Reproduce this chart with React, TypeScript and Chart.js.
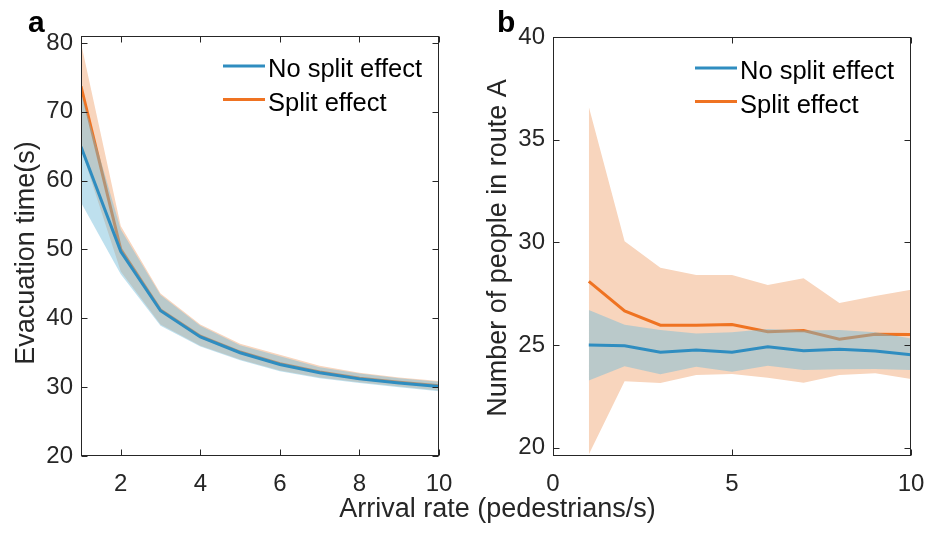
import React, { useEffect, useRef } from 'react';
import { Chart, registerables } from 'chart.js';

Chart.register(...registerables);

// ---------- data ----------
const arrivalRates = [1, 2, 3, 4, 5, 6, 7, 8, 9, 10];

// panel a: evacuation time (s)
const evacNoSplit = [64.9, 49.7, 41.1, 37.3, 35.0, 33.3, 32.1, 31.2, 30.6, 30.1];
const evacNoSplitUpper = [72.8, 52.9, 43.4, 38.9, 36.1, 34.5, 32.9, 32.0, 31.3, 30.8];
const evacNoSplitLower = [56.8, 46.4, 38.9, 35.9, 33.9, 32.3, 31.3, 30.6, 30.0, 29.4];
const evacSplit = [73.7, 50.0, 41.2, 37.4, 35.1, 33.4, 32.2, 31.3, 30.7, 30.2];
const evacSplitUpper = [80.0, 53.4, 43.6, 39.1, 36.3, 34.7, 33.1, 32.1, 31.4, 30.9];
const evacSplitLower = [64.6, 46.8, 39.1, 36.0, 34.0, 32.4, 31.4, 30.7, 30.1, 29.5];

// panel b: number of people in route A
const routeNoSplit = [25.0, 24.97, 24.65, 24.76, 24.65, 24.92, 24.72, 24.8, 24.71, 24.53];
const routeNoSplitUpper = [26.71, 25.99, 25.74, 25.57, 25.62, 25.78, 25.71, 25.74, 25.62, 25.32];
const routeNoSplitLower = [23.27, 23.97, 23.58, 23.95, 23.7, 24.0, 23.79, 23.82, 23.84, 23.79];
const routeSplit = [28.1, 26.66, 25.97, 25.97, 26.0, 25.65, 25.71, 25.29, 25.53, 25.52];
const routeSplitUpper = [36.6, 30.06, 28.77, 28.41, 28.41, 27.93, 28.25, 27.05, 27.39, 27.69];
const routeSplitLower = [19.67, 23.24, 23.16, 23.54, 23.59, 23.41, 23.17, 23.54, 23.63, 23.35];

const xTicksA = [2, 4, 6, 8, 10];
const yTicksA = [20, 30, 40, 50, 60, 70, 80];
const xTicksB = [0, 5, 10];
const yTicksB = [20, 25, 30, 35, 40];

const legendLabels = ['No split effect', 'Split effect'];
const titleA = 'Evacuation time(s)';
const titleB = 'Number of people in route A';
const xTitle = 'Arrival rate (pedestrians/s)';

// ---------- style ----------
const BLUE = '#2F8DC0';
const ORANGE = '#EF7322';
const BLUE_FILL = 'rgba(111,187,218,0.45)';
const ORANGE_FILL = '#F8D5BD';
const AXIS = '#262626';
const FONT = "'Liberation Sans', Arial, Helvetica, sans-serif";
const W = 928;
const H = 537;

function pts(xs: number[], ys: number[]) {
  return xs.map((x, i) => ({ x, y: ys[i] }));
}

type PanelCfg = {
  mean1: number[]; up1: number[]; lo1: number[];
  mean2: number[]; up2: number[]; lo2: number[];
  xMin: number; xMax: number; yMin: number; yMax: number;
  xTicks: number[]; yTicks: number[];
  left: number; right: number; top: number; bottom: number;
  yTitle: string; yTitleX: number; yTitleY: number;
  label: string; labelX: number;
  legendX: number; legendDy: number;
  drawXTitle: boolean;
};

function makePlugin(p: PanelCfg) {
  return {
    id: 'frame_' + p.label,
    afterDatasetsDraw(chart: any) {
      const { ctx, chartArea: a, scales } = chart;
      ctx.save();
      ctx.strokeStyle = AXIS;
      ctx.lineWidth = 1;
      const L = Math.round(a.left) + 0.5;
      const R = Math.round(a.right) - 0.5;
      const T = Math.round(a.top) + 0.5;
      const B = Math.round(a.bottom) - 0.5;
      ctx.strokeRect(L, T, R - L, B - T);
      const tl = 6;
      ctx.beginPath();
      for (const t of scales.x.ticks) {
        const px = Math.round(scales.x.getPixelForValue(t.value)) + 0.5;
        ctx.moveTo(px, B); ctx.lineTo(px, B - tl);
        ctx.moveTo(px, T); ctx.lineTo(px, T + tl);
      }
      for (const t of scales.y.ticks) {
        const py = Math.round(scales.y.getPixelForValue(t.value)) + 0.5;
        ctx.moveTo(L, py); ctx.lineTo(L + tl, py);
        ctx.moveTo(R, py); ctx.lineTo(R - tl, py);
      }
      ctx.stroke();

      // legend
      const lx = p.legendX;
      const ys = [66 + p.legendDy, 99.5 + p.legendDy];
      const cols = [BLUE, ORANGE];
      ctx.font = `25.5px ${FONT}`;
      ctx.textBaseline = 'alphabetic';
      ctx.textAlign = 'left';
      for (let i = 0; i < 2; i++) {
        ctx.strokeStyle = cols[i];
        ctx.lineWidth = 3;
        ctx.beginPath();
        ctx.moveTo(lx, ys[i]);
        ctx.lineTo(lx + 42, ys[i]);
        ctx.stroke();
        ctx.fillStyle = '#000';
        ctx.fillText(legendLabels[i], lx + 45, ys[i] + 11);
      }

      // y title
      ctx.fillStyle = AXIS;
      ctx.font = `27px ${FONT}`;
      ctx.save();
      ctx.translate(p.yTitleX, p.yTitleY);
      ctx.rotate(-Math.PI / 2);
      ctx.textAlign = 'center';
      ctx.fillText(p.yTitle, 0, 0);
      ctx.restore();

      if (p.drawXTitle) {
        ctx.textAlign = 'center';
        ctx.fillText(xTitle, 497.5, 517);
      }

      // panel label
      ctx.fillStyle = '#000';
      ctx.font = `bold 30px ${FONT}`;
      ctx.textAlign = 'left';
      ctx.fillText(p.label, p.labelX, 32);
      ctx.restore();
    },
  };
}

function makeConfig(p: PanelCfg): any {
  const band = (data: number[], color: string, fill: any) => ({
    data: pts(arrivalRates, data),
    borderWidth: 0,
    borderColor: 'transparent',
    backgroundColor: color,
    pointRadius: 0,
    fill,
    tension: 0,
  });
  const line = (data: number[], color: string) => ({
    data: pts(arrivalRates, data),
    borderWidth: 3,
    borderColor: color,
    pointRadius: 0,
    fill: false,
    tension: 0,
  });
  const tickFont = { family: FONT, size: 24 };
  return {
    type: 'line',
    data: {
      datasets: [
        line(p.mean1, BLUE),
        band(p.up1, BLUE_FILL, '+1'),
        band(p.lo1, 'transparent', false),
        line(p.mean2, ORANGE),
        band(p.up2, ORANGE_FILL, '+1'),
        band(p.lo2, 'transparent', false),
      ],
    },
    options: {
      animation: false,
      responsive: false,
      events: [],
      layout: { padding: { left: 0, right: W - p.right, top: p.top, bottom: 0 } },
      plugins: {
        legend: { display: false },
        tooltip: { enabled: false },
        filler: { drawTime: 'beforeDatasetDraw' },
      },
      scales: {
        x: {
          type: 'linear',
          min: p.xMin,
          max: p.xMax,
          grid: { display: false, drawTicks: false },
          border: { display: false },
          afterBuildTicks: (s: any) => { s.ticks = p.xTicks.map((v) => ({ value: v })); },
          afterFit: (s: any) => { s.height = H - p.bottom; s.paddingLeft = 0; s.paddingRight = 0; },
          ticks: { color: AXIS, font: tickFont, padding: 14, maxRotation: 0, autoSkip: false, callback: (v: any) => String(v) },
        },
        y: {
          type: 'linear',
          min: p.yMin,
          max: p.yMax,
          grid: { display: false, drawTicks: false },
          border: { display: false },
          afterBuildTicks: (s: any) => { s.ticks = p.yTicks.map((v) => ({ value: v })); },
          afterFit: (s: any) => { s.width = p.left; s.paddingTop = 0; s.paddingBottom = 0; },
          ticks: { color: AXIS, font: tickFont, padding: 8, autoSkip: false, callback: (v: any) => String(v) },
        },
      },
    },
    plugins: [makePlugin(p)],
  };
}

const panelA: PanelCfg = {
  mean1: evacNoSplit, up1: evacNoSplitUpper, lo1: evacNoSplitLower,
  mean2: evacSplit, up2: evacSplitUpper, lo2: evacSplitLower,
  xMin: 1, xMax: 10, yMin: 20, yMax: 81,
  xTicks: xTicksA, yTicks: yTicksA,
  left: 81, right: 439, top: 36, bottom: 456,
  yTitle: titleA, yTitleX: 34, yTitleY: 253,
  label: 'a', labelX: 28,
  legendX: 223, legendDy: 0,
  drawXTitle: true,
};

const panelB: PanelCfg = {
  mean1: routeNoSplit, up1: routeNoSplitUpper, lo1: routeNoSplitLower,
  mean2: routeSplit, up2: routeSplitUpper, lo2: routeSplitLower,
  xMin: 0, xMax: 10, yMin: 19.6, yMax: 40,
  xTicks: xTicksB, yTicks: yTicksB,
  left: 553, right: 911, top: 37, bottom: 456,
  yTitle: titleB, yTitleX: 506, yTitleY: 248,
  label: 'b', labelX: 497,
  legendX: 695, legendDy: 2,
  drawXTitle: false,
};

function Panel({ cfg }: { cfg: PanelCfg }) {
  const ref = useRef<HTMLCanvasElement>(null);
  useEffect(() => {
    if (!ref.current) return;
    const chart = new Chart(ref.current, makeConfig(cfg));
    return () => chart.destroy();
  }, [cfg]);
  return (
    <canvas
      ref={ref}
      width={W}
      height={H}
      style={{ position: 'absolute', left: 0, top: 0, width: W, height: H }}
    />
  );
}

export default function App() {
  return (
    <div style={{ position: 'absolute', left: 0, top: 0, width: W, height: H, background: '#fff' }}>
      <Panel cfg={panelA} />
      <Panel cfg={panelB} />
    </div>
  );
}
